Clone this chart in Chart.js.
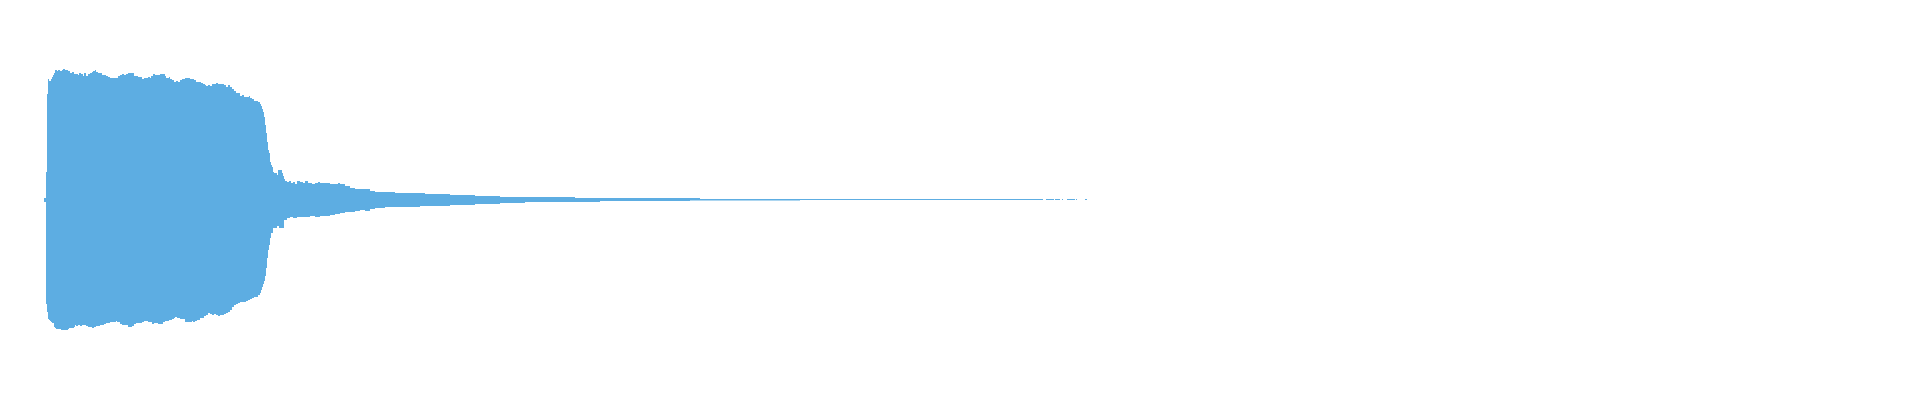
<!DOCTYPE html>
<html>
<head>
<meta charset="utf-8">
<title>Waveform</title>
<script src="https://cdn.jsdelivr.net/npm/chart.js@4/dist/chart.umd.min.js"></script>
<style>
    html, body { margin: 0; padding: 0; background: #ffffff; }
    #wrap { width: 1920px; height: 400px; position: relative; }
</style>
</head>
<body>
<div id="wrap"><canvas id="waveChart"></canvas></div>
<script>
// Upper envelope of the waveform: time (s) and peak amplitude
const upperTimes = [
    0.010, 0.015, 0.0175, 0.020, 0.0225, 0.0275, 0.030, 0.0325, 0.035, 0.0375,
    0.0425, 0.045, 0.050, 0.055, 0.0575, 0.0625, 0.070, 0.075, 0.080, 0.085,
    0.095, 0.0975, 0.1025, 0.1075, 0.110, 0.115, 0.120, 0.125, 0.130, 0.1325,
    0.1375, 0.140, 0.145, 0.155, 0.165, 0.170, 0.175, 0.195, 0.200, 0.205,
    0.210, 0.215, 0.220, 0.235, 0.245, 0.255, 0.260, 0.270, 0.275, 0.2775,
    0.2825, 0.2875, 0.300, 0.3125, 0.315, 0.3225, 0.325, 0.330, 0.335, 0.340,
    0.345, 0.350, 0.355, 0.3625, 0.375, 0.385, 0.390, 0.4025, 0.4075, 0.4125,
    0.415, 0.420, 0.425, 0.430, 0.440, 0.445, 0.460, 0.465, 0.470, 0.475,
    0.480, 0.485, 0.490, 0.500, 0.505, 0.510, 0.5225, 0.525, 0.530, 0.535,
    0.545, 0.550, 0.5525, 0.555, 0.5575, 0.560, 0.5625, 0.565, 0.5675, 0.570,
    0.5725, 0.575, 0.5775, 0.580, 0.5825, 0.585, 0.5925, 0.595, 0.605, 0.6075,
    0.610, 0.6125, 0.6175, 0.6225, 0.6275, 0.6325, 0.6375, 0.6425, 0.650, 0.6575,
    0.6625, 0.670, 0.680, 0.6875, 0.695, 0.700, 0.725, 0.745, 0.750, 0.7625,
    0.775, 0.7875, 0.825, 0.8375, 0.8875, 0.9625, 1.025, 1.0875, 1.150, 1.3375,
    1.650, 2.5075, 2.515, 2.535, 2.5375, 2.550, 2.555, 2.5575, 2.5675, 2.5875,
    2.590, 2.5925, 2.6125, 2.6175, 4.600
];
const upperPeaks = [
    0.010, 0.140, 0.530, 0.605, 0.595, 0.605, 0.615, 0.625, 0.635, 0.650,
    0.645, 0.650, 0.645, 0.650, 0.655, 0.650, 0.645, 0.635, 0.640, 0.630,
    0.625, 0.635, 0.630, 0.620, 0.635, 0.620, 0.630, 0.635, 0.640, 0.645,
    0.650, 0.640, 0.635, 0.625, 0.620, 0.615, 0.610, 0.620, 0.625, 0.630,
    0.625, 0.630, 0.635, 0.620, 0.615, 0.605, 0.610, 0.615, 0.610, 0.620,
    0.630, 0.625, 0.630, 0.620, 0.610, 0.615, 0.605, 0.600, 0.590, 0.595,
    0.590, 0.600, 0.605, 0.610, 0.605, 0.600, 0.590, 0.585, 0.580, 0.575,
    0.570, 0.575, 0.570, 0.580, 0.585, 0.580, 0.575, 0.565, 0.575, 0.565,
    0.555, 0.545, 0.535, 0.520, 0.525, 0.515, 0.520, 0.510, 0.505, 0.495,
    0.490, 0.480, 0.470, 0.455, 0.440, 0.415, 0.375, 0.335, 0.290, 0.250,
    0.235, 0.190, 0.175, 0.165, 0.140, 0.135, 0.125, 0.150, 0.135, 0.120,
    0.105, 0.095, 0.090, 0.095, 0.085, 0.090, 0.080, 0.095, 0.090, 0.085,
    0.095, 0.085, 0.080, 0.085, 0.090, 0.085, 0.080, 0.085, 0.080, 0.070,
    0.060, 0.055, 0.045, 0.040, 0.035, 0.030, 0.025, 0.020, 0.015, 0.010,
    0.005, 0.000, 0.005, 0.000, 0.005, 0.000, 0.005, 0.000, 0.005, 0.000,
    0.005, 0.000, 0.005, 0.000, 0.000
];

// Lower envelope of the waveform: time (s) and trough amplitude
const lowerTimes = [
    0.010, 0.015, 0.0175, 0.020, 0.0225, 0.025, 0.0275, 0.030, 0.035, 0.0375,
    0.040, 0.0525, 0.070, 0.0725, 0.085, 0.0875, 0.090, 0.095, 0.100, 0.105,
    0.115, 0.120, 0.130, 0.135, 0.140, 0.150, 0.160, 0.165, 0.175, 0.190,
    0.1925, 0.200, 0.205, 0.220, 0.230, 0.235, 0.240, 0.255, 0.260, 0.270,
    0.280, 0.285, 0.295, 0.3075, 0.3125, 0.3225, 0.330, 0.335, 0.3375, 0.3425,
    0.350, 0.3625, 0.380, 0.3825, 0.3875, 0.3925, 0.400, 0.410, 0.415, 0.420,
    0.425, 0.430, 0.435, 0.440, 0.445, 0.450, 0.460, 0.465, 0.470, 0.475,
    0.480, 0.485, 0.490, 0.495, 0.500, 0.515, 0.520, 0.525, 0.530, 0.535,
    0.545, 0.550, 0.5525, 0.555, 0.5575, 0.560, 0.5625, 0.565, 0.5675, 0.570,
    0.5725, 0.575, 0.5775, 0.5825, 0.5925, 0.5975, 0.610, 0.6175, 0.625, 0.6325,
    0.6425, 0.675, 0.6875, 0.700, 0.725, 0.7375, 0.750, 0.7625, 0.7875, 0.800,
    0.8125, 0.825, 0.8375, 0.8625, 0.950, 1.025, 1.0875, 1.150, 1.2125, 1.400,
    1.625, 1.900, 4.600
];
const lowerPeaks = [
    -0.010, -0.520, -0.560, -0.595, -0.600, -0.605, -0.610, -0.615, -0.635, -0.640,
    -0.645, -0.650, -0.645, -0.640, -0.635, -0.625, -0.630, -0.625, -0.630, -0.625,
    -0.630, -0.635, -0.640, -0.635, -0.630, -0.625, -0.620, -0.615, -0.610, -0.605,
    -0.610, -0.620, -0.625, -0.635, -0.630, -0.620, -0.615, -0.610, -0.605, -0.610,
    -0.620, -0.615, -0.620, -0.610, -0.605, -0.600, -0.595, -0.590, -0.585, -0.590,
    -0.595, -0.610, -0.605, -0.610, -0.605, -0.600, -0.590, -0.580, -0.575, -0.565,
    -0.570, -0.575, -0.570, -0.575, -0.580, -0.575, -0.570, -0.565, -0.560, -0.550,
    -0.535, -0.525, -0.520, -0.515, -0.510, -0.505, -0.500, -0.495, -0.490, -0.485,
    -0.475, -0.465, -0.450, -0.435, -0.420, -0.405, -0.380, -0.340, -0.290, -0.250,
    -0.225, -0.190, -0.165, -0.140, -0.130, -0.140, -0.100, -0.090, -0.085, -0.090,
    -0.085, -0.080, -0.085, -0.080, -0.075, -0.070, -0.065, -0.060, -0.055, -0.050,
    -0.055, -0.045, -0.040, -0.035, -0.030, -0.025, -0.020, -0.015, -0.010, -0.005,
    -0.0025, 0.000, 0.000
];

const waveColor = '#5dade2';

function toPoints(times, peaks) {
    return times.map((t, i) => ({ x: t, y: peaks[i] }));
}

const ctx = document.getElementById('waveChart').getContext('2d');
const waveChart = new Chart(ctx, {
    type: 'line',
    data: {
        datasets: [
            {
                label: 'upper',
                data: toPoints(upperTimes, upperPeaks),
                borderWidth: 0,
                pointRadius: 0,
                stepped: true,
                fill: 'origin',
                backgroundColor: waveColor
            },
            {
                label: 'lower',
                data: toPoints(lowerTimes, lowerPeaks),
                borderWidth: 0,
                pointRadius: 0,
                stepped: true,
                fill: 'origin',
                backgroundColor: waveColor
            }
        ]
    },
    options: {
        responsive: true,
        maintainAspectRatio: false,
        animation: false,
        layout: {
            padding: { left: 40, right: 40, top: 0, bottom: 0 }
        },
        scales: {
            x: { type: 'linear', min: 0, max: 4.6, display: false },
            y: { min: -1, max: 1, display: false }
        },
        plugins: {
            legend: { display: false },
            tooltip: { enabled: false }
        }
    }
});
</script>
</body>
</html>
